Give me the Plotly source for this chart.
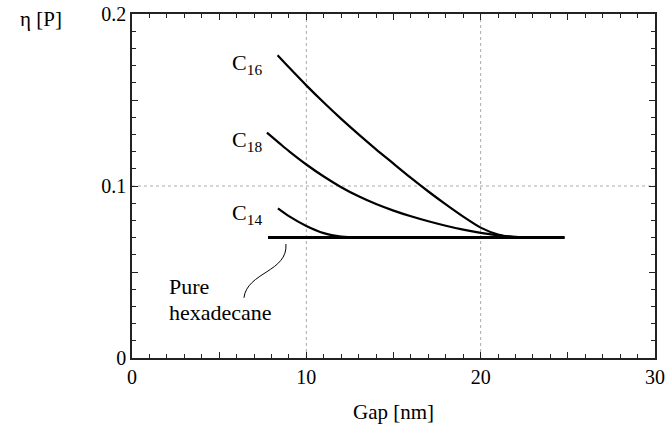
import plotly.graph_objects as go

# data: gap [nm] vs viscosity [P]
gap_c16 = [8.35, 9, 10, 11, 12, 13, 14, 15, 16, 17, 18, 19, 20, 21, 22, 23, 24.8]
eta_c16 = [0.176, 0.169, 0.1585, 0.1485, 0.139, 0.130, 0.1213, 0.113, 0.1047, 0.0968, 0.0893,
           0.0822, 0.0758, 0.0718, 0.0702, 0.0700, 0.070]

gap_c18 = [7.74, 8.5, 9, 10, 11, 12, 13, 14, 15, 16, 17, 18, 19, 20, 21, 22, 23, 24.8]
eta_c18 = [0.131, 0.1245, 0.1203, 0.1125, 0.1055, 0.0993, 0.0940, 0.0895, 0.0857, 0.0824,
           0.0795, 0.0769, 0.0746, 0.0727, 0.0713, 0.0704, 0.0701, 0.070]

gap_c14 = [8.37, 9, 10, 11, 12, 13, 24.8]
eta_c14 = [0.087, 0.0825, 0.0768, 0.0726, 0.0706, 0.0700, 0.070]

gap_pure = [7.8, 24.8]
eta_pure = [0.070, 0.070]

x_ticks = [0, 5, 10, 15, 20, 25, 30]
x_labels = ['0', '', '10', '', '20', '', '30']
x_minor = [v for v in range(31) if v % 5]
y_ticks = [0, 0.05, 0.1, 0.15, 0.2]
y_labels = ['0', '', '0.1', '', '0.2']
y_minor = [v / 100 for v in range(21) if v % 5]

FONT = 'Liberation Serif'
AX = '#222'

fig = go.Figure()
for gx, gy, w in [(gap_c16, eta_c16, 2.2), (gap_c18, eta_c18, 2.2),
                  (gap_c14, eta_c14, 2.2), (gap_pure, eta_pure, 3)]:
    fig.add_trace(go.Scatter(x=gx, y=gy, mode='lines',
                             line=dict(color='black', width=w, shape='spline', smoothing=0.8),
                             showlegend=False))

# dotted grid at the labelled ticks only
for xv in [10, 20]:
    fig.add_shape(type='line', xref='x', yref='paper', x0=xv, x1=xv, y0=0, y1=1,
                  line=dict(color='#aaa', width=1, dash='dot'), layer='below')
fig.add_shape(type='line', xref='paper', yref='y', x0=0, x1=1, y0=0.1, y1=0.1,
              line=dict(color='#aaa', width=1, dash='dot'), layer='below')

# curly connector to the "Pure hexadecane" label
fig.add_shape(type='path', xref='x', yref='y',
              path='M 8.83 0.0663 C 8.95 0.050, 6.6 0.050, 6.42 0.035',
              line=dict(color='black', width=1))

for txt, yv in [('C<sub>16</sub>', 0.171), ('C<sub>18</sub>', 0.126), ('C<sub>14</sub>', 0.084)]:
    fig.add_annotation(x=7.6, y=yv, text=txt, showarrow=False, xanchor='right',
                       yanchor='middle', font=dict(family=FONT, size=22, color='black'))
fig.add_annotation(x=2.0, y=0.0413, text='Pure', showarrow=False, xanchor='left',
                   yanchor='middle', font=dict(family=FONT, size=22, color='black'))
fig.add_annotation(x=2.0, y=0.0262, text='hexadecane', showarrow=False, xanchor='left',
                   yanchor='middle', font=dict(family=FONT, size=22, color='black'))
fig.add_annotation(xref='paper', yref='paper', x=-0.218, y=0.985, xanchor='left',
                   yanchor='middle', text='η [P]', showarrow=False,
                   font=dict(family=FONT, size=21, color='black'))

axis_common = dict(showgrid=False, zeroline=False, showline=True, linecolor=AX, linewidth=1.5,
                   mirror='ticks', ticks='inside', ticklen=6, tickcolor=AX, tickwidth=1.3,
                   automargin=False, ticklabeloverflow='allow', layer='above traces',
                   tickfont=dict(family=FONT, size=20, color='black'))
fig.update_xaxes(range=[0, 30], tickmode='array', tickvals=x_ticks, ticktext=x_labels,
                 minor=dict(tickmode='array', tickvals=x_minor, ticks='inside', ticklen=4,
                            tickcolor=AX, tickwidth=1.1),
                 title=dict(text='Gap [nm]', font=dict(family=FONT, size=21, color='black'),
                            standoff=18),
                 **axis_common)
fig.update_yaxes(range=[0, 0.2], tickmode='array', tickvals=y_ticks, ticktext=y_labels,
                 minor=dict(tickmode='array', tickvals=y_minor, ticks='inside', ticklen=4,
                            tickcolor=AX, tickwidth=1.1),
                 **axis_common)

fig.update_layout(width=667, height=436, margin=dict(l=132, r=12, t=14, b=78),
                  plot_bgcolor='white', paper_bgcolor='white',
                  font=dict(family=FONT, color='black'))
# drop the default 8px page margin so the figure sits at the window corner
fig.write_html("out.html", config={'displayModeBar': False},
               post_script="document.body.style.margin='0';")
